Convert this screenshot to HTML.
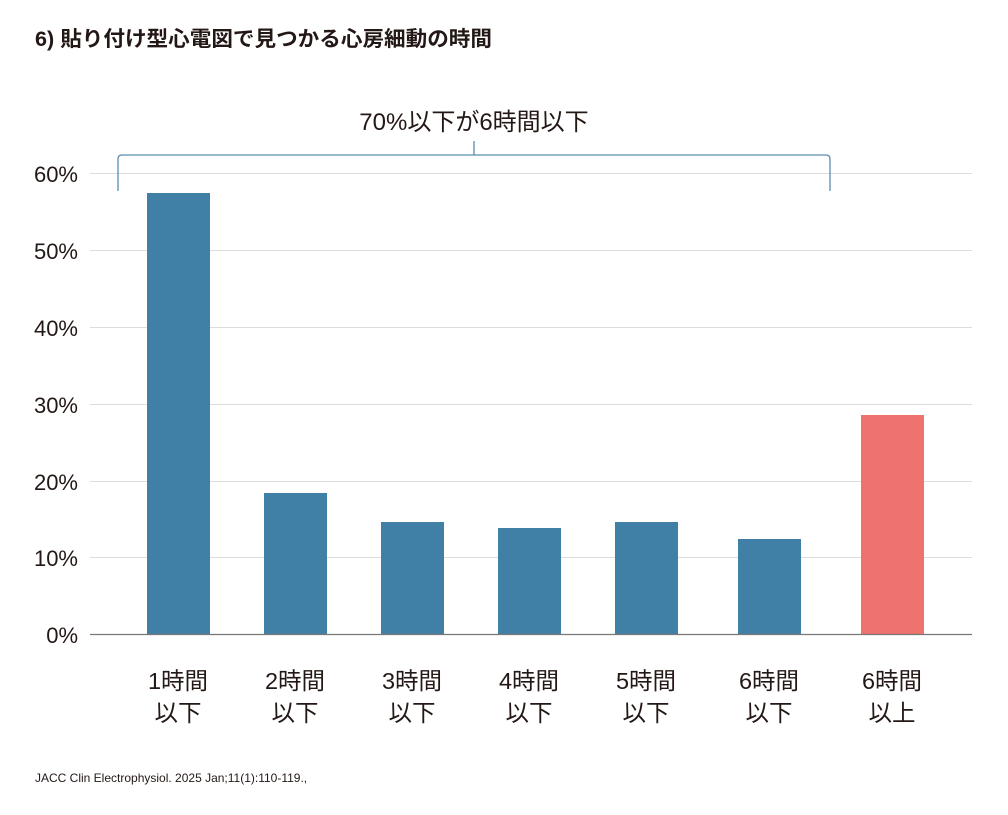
<!DOCTYPE html>
<html><head><meta charset="utf-8"><style>
body{margin:0;width:1008px;height:810px;background:#fff;overflow:hidden}
svg text{font-family:"Liberation Sans","Noto Sans CJK JP",sans-serif;fill:#231815}
</style></head><body>
<svg width="1008" height="810" xmlns="http://www.w3.org/2000/svg">
<text x="35" y="46" font-size="21" font-weight="bold" textLength="457" lengthAdjust="spacingAndGlyphs">6) 貼り付け型心電図で見つかる心房細動の時間</text>
<g stroke="#dcdcdc" stroke-width="1">
<line x1="90" x2="972" y1="173.5" y2="173.5"/><line x1="90" x2="972" y1="250.5" y2="250.5"/>
<line x1="90" x2="972" y1="327.5" y2="327.5"/><line x1="90" x2="972" y1="404.5" y2="404.5"/>
<line x1="90" x2="972" y1="481.5" y2="481.5"/><line x1="90" x2="972" y1="557.5" y2="557.5"/>
</g>
<g font-size="22" text-anchor="end">
<text x="78" y="182">60%</text><text x="78" y="259">50%</text><text x="78" y="336">40%</text>
<text x="78" y="413">30%</text><text x="78" y="490">20%</text><text x="78" y="566">10%</text><text x="78" y="643">0%</text>
</g>
<g fill="#4180a6">
<rect x="147" y="193" width="63" height="441"/><rect x="264" y="493" width="63" height="141"/>
<rect x="381" y="522" width="63" height="112"/><rect x="498" y="528" width="63" height="106"/>
<rect x="615" y="522" width="63" height="112"/><rect x="738" y="539" width="63" height="95"/>
</g>
<rect x="861" y="415" width="63" height="219" fill="#ee736e"/>
<line x1="90" x2="972" y1="634.5" y2="634.5" stroke="#777" stroke-width="1.2"/>
<path d="M118 191 V159 Q118 155 122 155 H826 Q830 155 830 159 V191 M474 155 V141" fill="none" stroke="#5b8db0" stroke-width="1.3"/>
<text x="474" y="130" font-size="24" text-anchor="middle">70%以下が6時間以下</text>
<g font-size="23.5" text-anchor="middle">
<text x="178" y="689">1時間</text><text x="178" y="721">以下</text>
<text x="295" y="689">2時間</text><text x="295" y="721">以下</text>
<text x="412" y="689">3時間</text><text x="412" y="721">以下</text>
<text x="529" y="689">4時間</text><text x="529" y="721">以下</text>
<text x="646" y="689">5時間</text><text x="646" y="721">以下</text>
<text x="769" y="689">6時間</text><text x="769" y="721">以下</text>
<text x="892" y="689">6時間</text><text x="892" y="721">以上</text>
</g>
<text x="35" y="782" font-size="12">JACC Clin Electrophysiol. 2025 Jan;11(1):110-119.,</text>
</svg>
</body></html>
